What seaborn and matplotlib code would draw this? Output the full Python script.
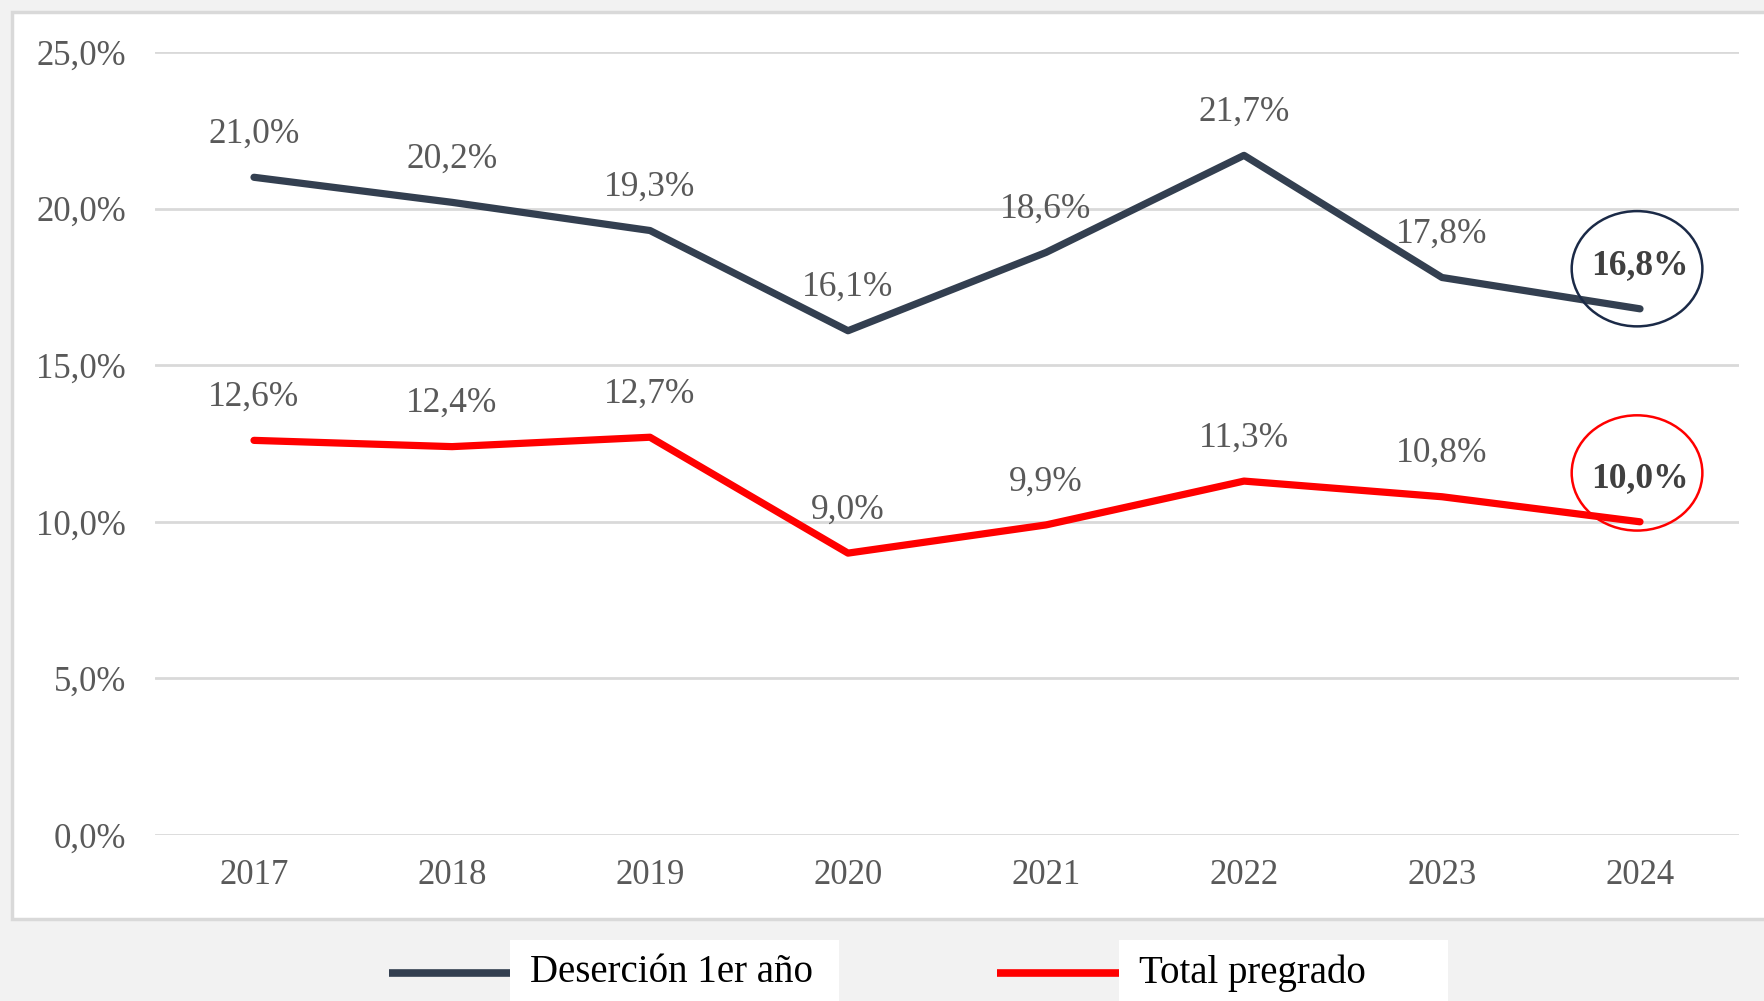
import matplotlib
matplotlib.use("Agg")
import matplotlib.pyplot as plt
import seaborn as sns
import pandas as pd
from matplotlib.patches import Ellipse, Rectangle
from matplotlib.lines import Line2D

years = ["2017", "2018", "2019", "2020", "2021", "2022", "2023", "2024"]
desercion = [21.0, 20.2, 19.3, 16.1, 18.6, 21.7, 17.8, 16.8]
total = [12.6, 12.4, 12.7, 9.0, 9.9, 11.3, 10.8, 10.0]
series_names = ["Deserción 1er año", "Total pregrado"]
yticks = [0, 5, 10, 15, 20, 25]

colors = {"Deserción 1er año": "#333F50", "Total pregrado": "#FF0000"}
ring_colors = {"Deserción 1er año": "#1B2A47", "Total pregrado": "#FF0000"}
ring_offset = {"Deserción 1er año": 1.28, "Total pregrado": 1.56}

df = pd.DataFrame({
    "year": years * 2,
    "value": desercion + total,
    "serie": [series_names[0]] * len(years) + [series_names[1]] * len(years),
})

sns.set_theme(style="white")
plt.rcParams["font.family"] = ["Liberation Serif", "DejaVu Serif"]

fig = plt.figure(figsize=(17.65, 10.01), dpi=100, facecolor="#F2F2F2")
# white chart panel
fig.add_artist(Rectangle((12 / 1765, 1 - 919 / 1001), 1.0, (919 - 12) / 1001,
                         transform=fig.transFigure, facecolor="white",
                         edgecolor="#D9D9D9", linewidth=2.5, zorder=0))

ax = fig.add_axes([155 / 1765, 1 - 835 / 1001, (1739 - 155) / 1765, (835 - 52) / 1001])
ax.set_facecolor("white")
ax.patch.set_alpha(0)

sns.lineplot(data=df, x="year", y="value", hue="serie", palette=colors,
             linewidth=5.2, ax=ax, legend=False, sort=False, zorder=3)
for ln in ax.lines:
    ln.set_solid_capstyle("round")

ax.set_xlim(-0.5, len(years) - 0.5)
ax.set_ylim(0, 25)
ax.set_yticks(yticks)
ax.set_yticklabels([f"{t:.1f}%".replace(".", ",") for t in yticks])
ax.grid(axis="y", color="#D9D9D9", linewidth=2)
ax.grid(axis="x", visible=False)
for s in ax.spines.values():
    s.set_visible(False)
ax.tick_params(axis="both", length=0, labelsize=25, labelcolor="#595959")
ax.tick_params(axis="y", pad=21)
ax.tick_params(axis="x", pad=17)
ax.set_xlabel("")
ax.set_ylabel("")

for name, vals in zip(series_names, [desercion, total]):
    for i, v in enumerate(vals):
        last = i == len(vals) - 1
        ax.annotate(f"{v:.1f}%".replace(".", ","), (i, v), xytext=(0, 31),
                    textcoords="offset points", ha="center", va="center",
                    fontsize=25.5, color="#404040" if last else "#595959",
                    fontweight="bold" if last else "normal", zorder=5)
    # ring around last label
    ax.add_patch(Ellipse((len(vals) - 1 - 0.015, vals[-1] + ring_offset[name]), 0.66, 3.68,
                         fill=False, edgecolor=ring_colors[name], linewidth=1.8,
                         clip_on=False, zorder=6))

# legend
leg_y = 1 - 973 / 1001
for name, x0, x1, bx0, bx1 in [(series_names[0], 389, 510, 510, 839),
                                (series_names[1], 997, 1119, 1119, 1448)]:
    fig.add_artist(Rectangle((bx0 / 1765, 0), (bx1 - bx0) / 1765, 1 - 940 / 1001,
                             transform=fig.transFigure, facecolor="white",
                             edgecolor="none", zorder=1))
    fig.add_artist(Line2D([x0 / 1765, x1 / 1765], [leg_y, leg_y], transform=fig.transFigure,
                          color=colors[name], linewidth=5.5, solid_capstyle="butt", zorder=2))
    fig.text((bx0 + 20) / 1765, leg_y, name, ha="left", va="center",
             fontsize=28, color="black", zorder=3)

fig.savefig("out.png", dpi=100, facecolor=fig.get_facecolor())
